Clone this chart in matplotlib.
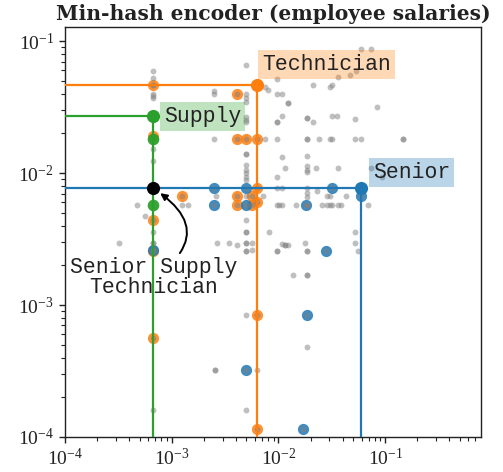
import matplotlib
matplotlib.use("Agg")
import matplotlib.pyplot as plt
import numpy as np

plt.rcParams['font.family'] = ['Liberation Serif', 'DejaVu Serif']
plt.rcParams['mathtext.fontset'] = 'stix'

title = "Min-hash encoder (employee salaries)"

# highlighted words: (x, y)
word_names = ["Technician", "Supply", "Senior"]
word_x = [6.24e-3, 6.73e-4, 5.94e-2]
word_y = [0.0468, 0.0269, 0.00766]
word_colors = ["tab:orange", "tab:green", "tab:blue"]

combo_name = "Senior Supply\nTechnician"
combo_x = 6.73e-4
combo_y = 0.00766

# other categories containing "Technician"
orange_x = [6.73e-4, 6.73e-4, 6.73e-4, 6.73e-4, 6.73e-4, 1.26e-3, 4.06e-3,
            4.06e-3, 4.96e-3, 6.24e-3, 4.06e-3, 4.06e-3, 5.6e-3, 5.6e-3,
            6.24e-3, 6.24e-3, 6.24e-3, 6.24e-3]
orange_y = [0.0468, 0.0191, 0.0044, 0.00255, 5.6e-4, 0.0067, 0.0395,
            0.0181, 0.0181, 0.0181, 0.0067, 0.00573, 0.0067, 0.00573,
            0.00766, 0.0060, 8.4e-4, 1.14e-4]

# other categories containing "Supply"
green_x = [6.73e-4, 6.73e-4]
green_y = [0.0181, 0.00573]

# other categories containing "Senior"
blue_x = [2.48e-3, 2.48e-3, 4.96e-3, 4.96e-3, 3.2e-2, 5.94e-2, 1.8e-2,
          2.79e-2, 1.84e-2, 4.96e-3, 1.71e-2, 6.73e-4]
blue_y = [0.00766, 0.00573, 0.00766, 0.00573, 0.00766, 0.0067, 0.00573,
          0.00259, 8.4e-4, 3.22e-4, 1.14e-4, 0.00263]

# all other categories
gray_x = [6.7e-4, 6.7e-4, 6.7e-4, 6.7e-4, 6.7e-4, 6.7e-4, 6.7e-4, 6.7e-4, 6.7e-4,
          6.7e-4, 6.7e-4, 6.7e-4,
          4.7e-4, 5.56e-4, 3.23e-4, 1.26e-3, 1.42e-3, 2.58e-3, 2.48e-3, 2.48e-3,
          2.48e-3, 2.64e-3, 3.44e-3, 4.06e-3, 2.55e-3, 2.55e-3,
          4.96e-3, 4.96e-3, 4.96e-3, 4.96e-3, 4.96e-3, 4.96e-3, 4.96e-3, 4.96e-3,
          4.96e-3, 4.96e-3, 4.96e-3, 4.96e-3, 4.96e-3, 4.96e-3, 4.96e-3, 4.96e-3,
          4.96e-3, 4.96e-3, 4.96e-3, 4.96e-3, 4.96e-3, 4.96e-3, 4.96e-3, 4.96e-3,
          5.6e-3, 5.6e-3, 6.3e-3,
          7.48e-3, 7.48e-3, 7.91e-3, 7.2e-3, 8.17e-3,
          9.64e-3, 9.64e-3, 9.64e-3, 9.64e-3, 9.64e-3, 9.64e-3, 9.64e-3, 9.64e-3,
          9.64e-3, 9.64e-3,
          1.02e-2, 1.07e-2, 1.07e-2, 1.07e-2, 1.08e-2, 1.08e-2, 1.08e-2, 1.16e-2,
          1.16e-2, 1.16e-2, 1.24e-2, 1.24e-2, 1.24e-2, 1.38e-2, 1.46e-2, 1.77e-2,
          1.84e-2, 1.84e-2, 1.84e-2, 1.84e-2, 1.84e-2, 1.84e-2, 1.84e-2, 1.84e-2,
          1.84e-2, 1.84e-2, 1.84e-2, 1.84e-2, 1.84e-2, 1.84e-2, 1.84e-2, 1.84e-2,
          1.84e-2, 1.84e-2,
          2.09e-2, 2.09e-2, 2.25e-2, 2.32e-2, 2.41e-2, 2.55e-2, 2.88e-2, 2.88e-2,
          3.05e-2, 3.05e-2, 3.05e-2, 3.05e-2, 3.2e-2, 3.2e-2, 3.2e-2, 3.2e-2,
          3.52e-2, 3.64e-2, 3.64e-2, 3.64e-2, 3.87e-2, 4.31e-2, 4.69e-2,
          5.16e-2, 5.16e-2, 5.16e-2, 5.16e-2, 5.3e-2, 5.57e-2, 5.9e-2, 5.94e-2,
          6.97e-2, 7.38e-2, 7.38e-2, 8.3e-2, 9.42e-2, 0.146, 0.146]
gray_y = [0.0593, 0.0527, 0.0468, 0.0401, 0.0383, 0.037, 0.0151, 0.0123, 0.00357,
          0.00297, 0.00297, 1.6e-4,
          0.00573, 0.00472, 0.00297, 0.00573, 0.00573, 0.0067, 0.0181, 0.0418,
          0.0397, 0.00297, 0.00297, 0.00287, 3.22e-4, 3.22e-4,
          0.0658, 0.0395, 0.0368, 0.0347, 0.0265, 0.0253, 0.0243, 0.0139,
          0.0139, 0.0115, 0.0105, 0.0100, 0.0094, 0.00885, 0.0067, 0.0044,
          0.00357, 0.00357, 0.00297, 0.00297, 0.00259, 0.00259, 8.4e-4, 1.6e-4,
          0.00297, 0.0026, 3.22e-4,
          0.0446, 0.0181, 0.043, 0.0067, 0.00357,
          0.0515, 0.0395, 0.0246, 0.0246, 0.0181, 0.00938, 0.00766, 0.00573,
          0.00259, 0.00259,
          0.00573, 0.0272, 0.0133, 0.00288, 0.0395, 0.00766, 0.00573, 0.011,
          0.00287, 0.00287, 0.0339, 0.0339, 0.00287, 0.00169, 0.00573, 0.00297,
          0.0261, 0.0261, 0.0181, 0.0181, 0.0134, 0.0113, 0.0106, 0.0102,
          0.00766, 0.00702, 0.0066, 0.00573, 0.00573, 0.00259, 0.00259, 0.00169,
          0.00169, 4.83e-4,
          0.0465, 0.0246, 0.011, 0.00731, 0.0181, 0.00573, 0.0067, 0.00573,
          0.0446, 0.0181, 0.0067, 0.00573, 0.0465, 0.0272, 0.0181, 0.00573,
          0.0272, 0.0537, 0.011, 0.00573, 0.00573, 0.0067, 0.0552,
          0.0255, 0.0181, 0.00357, 0.00297, 0.0593, 0.00259, 0.0181, 0.0877,
          0.00573, 0.0877, 0.011, 0.0318, 0.00938, 0.0181, 0.0181]

xlim = (1e-4, 0.79)
ylim = (1e-4, 0.128)

fig = plt.figure(figsize=(5.03, 4.72), dpi=100)
ax = fig.add_axes([65/503, 1 - 437/472, (481-65)/503, (437-27)/472])
ax.set_xscale('log')
ax.set_yscale('log')
ax.set_xlim(*xlim)
ax.set_ylim(*ylim)

# colored subsets
ax.scatter(orange_x, orange_y, s=65, color='tab:orange', alpha=0.85, lw=0, zorder=2)
ax.scatter(blue_x, blue_y, s=65, color='tab:blue', alpha=0.85, lw=0, zorder=2)

# all categories in gray
all_gx = list(gray_x) + list(orange_x) + list(blue_x)
all_gy = list(gray_y) + list(orange_y) + list(blue_y)
ax.scatter(all_gx, all_gy, s=18, color='gray', alpha=0.5, lw=0, zorder=3)

ax.scatter(green_x, green_y, s=70, color='tab:green', alpha=0.95, lw=0, zorder=4)

# highlighted words with guide lines
for wx, wy, c in zip(word_x, word_y, word_colors):
    ax.plot([wx, wx], [ylim[0], wy], color=c, lw=1.6, zorder=5)
    ax.plot([xlim[0], wx], [wy, wy], color=c, lw=1.6, zorder=5)
    ax.scatter([wx], [wy], s=90, color=c, lw=0, zorder=6)

ax.scatter([combo_x], [combo_y], s=90, color='black', lw=0, zorder=7)

mono = ['Liberation Mono', 'DejaVu Sans Mono']
offsets = {"Technician": (5.5, 20.5), "Supply": (10.5, 0), "Senior": (12, 16)}
for name, wx, wy, c in zip(word_names, word_x, word_y, word_colors):
    ax.annotate(name, xy=(wx, wy), xytext=offsets[name], textcoords='offset pixels',
                ha='left', va='center', fontsize=15.5, family=mono, color='#222222',
                bbox=dict(boxstyle='square,pad=0.18', fc=c, alpha=0.3, ec='none'),
                zorder=8)

ax.annotate(combo_name, xy=(combo_x, combo_y), xytext=(combo_x, 1.62e-3),
            textcoords='data', ha='center', va='center', fontsize=15.5,
            family=mono, color='#222222', linespacing=0.92, zorder=8,
            arrowprops=dict(arrowstyle='-|>', color='black', lw=1.4,
                            connectionstyle='arc3,rad=0.75', shrinkA=1, shrinkB=6,
                            mutation_scale=10))

ax.set_title(title, fontsize=14.6, fontweight='bold', color='#222222', pad=5,
             family=['DejaVu Serif'])

for s in ax.spines.values():
    s.set_color('#222222')
    s.set_linewidth(1.0)
ax.tick_params(which='major', direction='out', length=4.5, width=1.0, labelsize=14,
               colors='#222222', top=False, right=False)
ax.tick_params(which='minor', direction='out', length=3, width=0.8,
               colors='#222222', top=False, right=False)

fig.savefig('out.png', dpi=100)
